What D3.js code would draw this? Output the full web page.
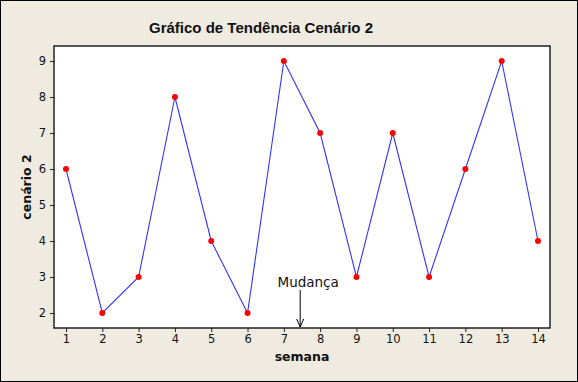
<!DOCTYPE html>
<html><head><meta charset="utf-8">
<script src="https://cdn.jsdelivr.net/npm/d3@7"></script>
<style>body{margin:0;background:#fff}svg{display:block}</style>
</head><body>
<svg id="c" width="578" height="382"></svg>
<script>
const semanas = [1,2,3,4,5,6,7,8,9,10,11,12,13,14];
const cenario2 = [6,2,3,8,4,2,9,7,3,7,3,6,9,4];
const yTicks = [2,3,4,5,6,7,8,9];
const annotation = {label: "Mudança", x: 7.45};

const svg = d3.select("#c");
const W = 578, H = 382;
svg.append("rect").attr("x",0.5).attr("y",0.5).attr("width",W-1).attr("height",H-1)
  .attr("fill","#f0ebe1").attr("stroke","#000");

const P = {l:54, t:46, r:550, b:328};
svg.append("rect").attr("x",P.l).attr("y",P.t).attr("width",P.r-P.l).attr("height",P.b-P.t)
  .attr("fill","#fff").attr("stroke","#222").attr("stroke-width",1.5);

const x = d3.scaleLinear().domain([1,14]).range([66,538]);
const y = d3.scaleLinear().domain([2,9]).range([313,61]);

const font = "'DejaVu Sans', Verdana, sans-serif";

const xa = svg.append("g").attr("transform",`translate(0,${P.b})`)
  .call(d3.axisBottom(x).tickValues(semanas).tickSize(4).tickPadding(3).tickFormat(d3.format("d")));
const ya = svg.append("g").attr("transform",`translate(${P.l},0)`)
  .call(d3.axisLeft(y).tickValues(yTicks).tickSize(4).tickPadding(4).tickFormat(d3.format("d")));
[xa,ya].forEach(a=>{
  a.select(".domain").remove();
  a.selectAll("line").attr("stroke","#222");
  a.selectAll("text").attr("font-family",font).attr("font-size",11.5).attr("fill","#111");
});

const line = d3.line().x((d,i)=>x(semanas[i])).y(d=>y(d));
svg.append("path").datum(cenario2).attr("d",line).attr("fill","none")
  .attr("stroke","#3333ff").attr("stroke-width",1.1);
svg.selectAll("circle.p").data(cenario2).join("circle").attr("class","p")
  .attr("cx",(d,i)=>x(semanas[i])).attr("cy",d=>y(d)).attr("r",3).attr("fill","#ff0000");

// annotation
const ax = x(annotation.x);
svg.append("line").attr("x1",ax).attr("x2",ax).attr("y1",290).attr("y2",327).attr("stroke","#000").attr("stroke-width",1);
svg.append("path").attr("d",`M${ax-3.5},${319} L${ax},${327} L${ax+3.5},${319}`).attr("fill","none").attr("stroke","#000");
svg.append("text").attr("x",ax+8).attr("y",287).attr("text-anchor","middle")
  .attr("font-family",font).attr("font-size",13.5).attr("fill","#111").text(annotation.label);

svg.append("text").attr("x",261).attr("y",33).attr("text-anchor","middle")
  .attr("font-family","'Liberation Sans', Arial, sans-serif").attr("font-weight","bold").attr("font-size",15).attr("fill","#111")
  .text("Gráfico de Tendência Cenário 2");
svg.append("text").attr("x",302).attr("y",361).attr("text-anchor","middle")
  .attr("font-family",font).attr("font-weight","bold").attr("font-size",12.5).attr("fill","#111").text("semana");
svg.append("text").attr("transform","translate(31,187) rotate(-90)").attr("text-anchor","middle")
  .attr("font-family",font).attr("font-weight","bold").attr("font-size",12.5).attr("fill","#111").text("cenário 2");
</script>
</body></html>
